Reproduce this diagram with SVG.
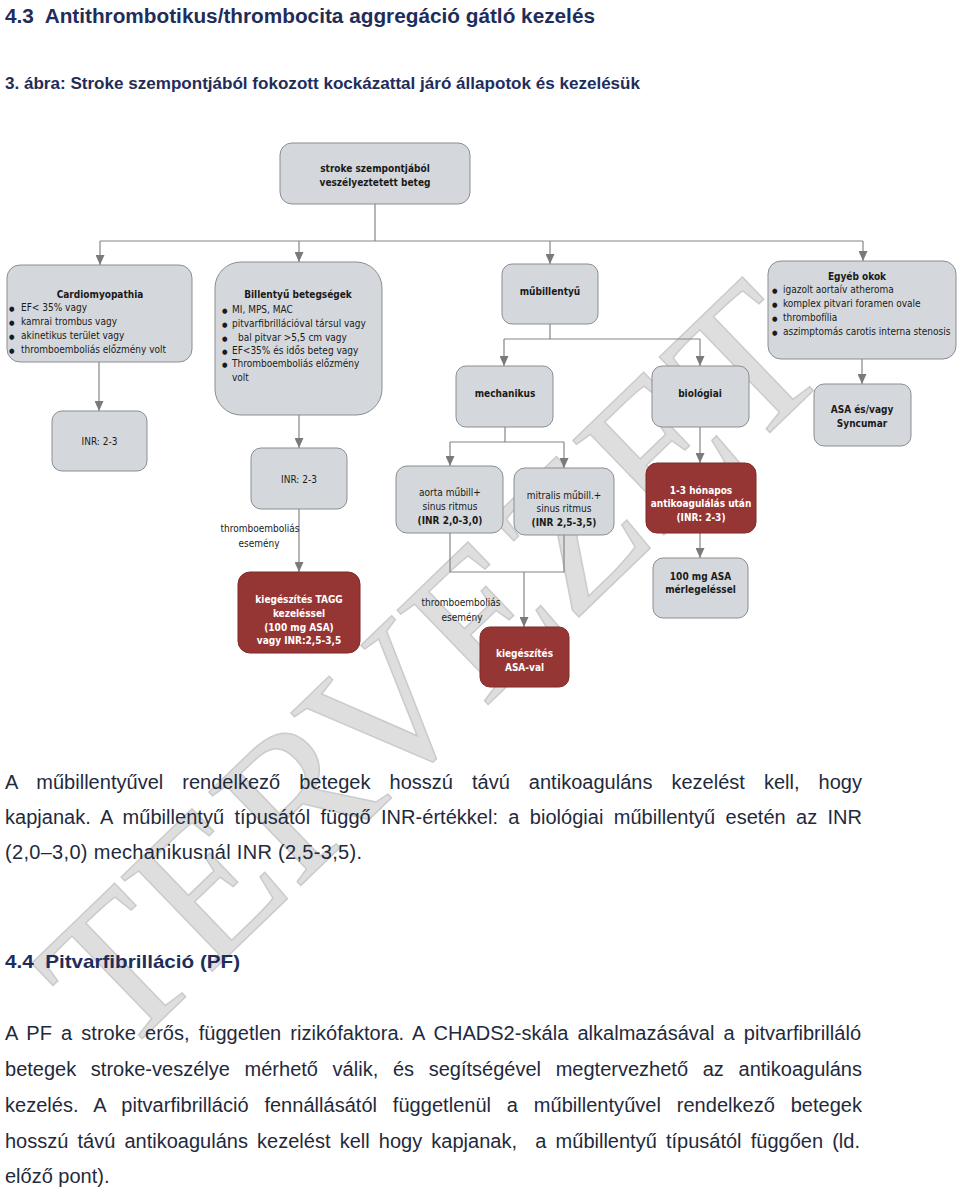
<svg xmlns="http://www.w3.org/2000/svg" width="960" height="1193" viewBox="0 0 960 1193">
<style>
.bg{fill:#ffffff}
.wm{font-family:"Liberation Serif",serif;font-size:200px;fill:#dedede;stroke:#cbcbcb;stroke-width:1.5}
.box{fill:#d4d8dc;stroke:#8a8d91;stroke-width:1}
.red{fill:#953634;stroke:#7e2b29;stroke-width:1}
.conn path{fill:none;stroke:#858585;stroke-width:1.2}
.t{font-family:"DejaVu Sans Condensed","DejaVu Sans",sans-serif;font-size:10px;fill:#1a1a1a}
.b{font-weight:bold}
.c{text-anchor:middle}
.w{fill:#ffffff}
.dot{font-size:7px}
.h{font-family:"Liberation Sans",Arial,sans-serif;font-weight:bold;fill:#1f2d5a}
.p{font-family:"Liberation Sans",Arial,sans-serif;font-size:20px;fill:#1f2a3c}
</style>
<defs>
<marker id="ah" markerUnits="userSpaceOnUse" markerWidth="10" markerHeight="9" refX="10" refY="4.5" orient="auto">
<path d="M0,0 L10,4.5 L0,9 Z" fill="#7a7a7a"/>
</marker>
</defs>
<rect class="bg" x="0" y="0" width="960" height="1193"/>

<g id="watermark">
<text class="wm" x="120" y="1060" transform="rotate(-44 120 1060)">TERVEZET</text>
</g>

<g id="headings">
<text class="h" x="5" y="23" font-size="20" textLength="590" lengthAdjust="spacingAndGlyphs" xml:space="preserve">4.3  Antithrombotikus/thrombocita aggregáció gátló kezelés</text>
<text class="h" x="5" y="89" font-size="16" textLength="635" lengthAdjust="spacingAndGlyphs">3. ábra: Stroke szempontjából fokozott kockázattal járó állapotok és kezelésük</text>
</g>

<g id="connectors" class="conn">
<path d="M375,204 V241"/>
<path d="M100,241 H863"/>
<path d="M100,241 V265" marker-end="url(#ah)"/>
<path d="M299,241 V262" marker-end="url(#ah)"/>
<path d="M550,241 V264" marker-end="url(#ah)"/>
<path d="M863,241 V261" marker-end="url(#ah)"/>
<path d="M99,362 V411" marker-end="url(#ah)"/>
<path d="M299,415 V448" marker-end="url(#ah)"/>
<path d="M299,509 V572" marker-end="url(#ah)"/>
<path d="M550,324 V339 M504,339 H700"/>
<path d="M504,339 V366" marker-end="url(#ah)"/>
<path d="M700,339 V366" marker-end="url(#ah)"/>
<path d="M505,427 V442 M450,442 H564"/>
<path d="M450,442 V466" marker-end="url(#ah)"/>
<path d="M564,442 V468" marker-end="url(#ah)"/>
<path d="M450,533 V572 H564 V535"/>
<path d="M524,572 V627" marker-end="url(#ah)"/>
<path d="M700,427 V463" marker-end="url(#ah)"/>
<path d="M700,533 V558" marker-end="url(#ah)"/>
<path d="M862,359 V384" marker-end="url(#ah)"/>
</g>

<g id="edge-labels">
<text class="t c" x="260" y="532">thromboemboliás</text>
<text class="t c" x="259" y="547">esemény</text>
<text class="t c" x="461" y="606">thromboemboliás</text>
<text class="t c" x="462" y="621">esemény</text>
</g>

<g id="n-root">
<rect class="box" x="280" y="143" width="190" height="61" rx="12"/>
<text class="t b c" x="375" y="172">stroke szempontjából</text>
<text class="t b c" x="375" y="186">veszélyeztetett beteg</text>
</g>

<g id="n-cardio">
<rect class="box" x="7" y="265" width="185" height="97" rx="13"/>
<text class="t b c" x="100" y="298">Cardiomyopathia</text>
<text class="t" x="9" y="311"><tspan class="dot">●</tspan><tspan x="21">EF&lt; 35% vagy</tspan></text>
<text class="t" x="9" y="325"><tspan class="dot">●</tspan><tspan x="21">kamrai trombus vagy</tspan></text>
<text class="t" x="9" y="339"><tspan class="dot">●</tspan><tspan x="21">akinetikus terület vagy</tspan></text>
<text class="t" x="9" y="353"><tspan class="dot">●</tspan><tspan x="21">thromboemboliás előzmény volt</tspan></text>
</g>

<g id="n-billentyu">
<rect class="box" x="215" y="262" width="167" height="153" rx="26"/>
<text class="t b c" x="298" y="298">Billentyű betegségek</text>
<text class="t" x="222" y="313"><tspan class="dot">●</tspan><tspan x="232">MI, MPS, MAC</tspan></text>
<text class="t" x="222" y="327"><tspan class="dot">●</tspan><tspan x="232">pitvarfibrillációval társul vagy</tspan></text>
<text class="t" x="222" y="341"><tspan class="dot">●</tspan><tspan x="238">bal pitvar &gt;5,5 cm vagy</tspan></text>
<text class="t" x="222" y="354"><tspan class="dot">●</tspan><tspan x="232">EF&lt;35% és idős beteg vagy</tspan></text>
<text class="t" x="222" y="367"><tspan class="dot">●</tspan><tspan x="232">Thromboemboliás előzmény</tspan></text>
<text class="t" x="232" y="381">volt</text>
</g>

<g id="n-mubillentyu">
<rect class="box" x="502" y="264" width="96" height="60" rx="10"/>
<text class="t b c" x="550" y="295">műbillentyű</text>
</g>

<g id="n-egyeb">
<rect class="box" x="768" y="261" width="188" height="98" rx="13"/>
<text class="t b c" x="857" y="280">Egyéb okok</text>
<text class="t" x="772" y="293"><tspan class="dot">●</tspan><tspan x="783">igazolt aortaív atheroma</tspan></text>
<text class="t" x="772" y="307"><tspan class="dot">●</tspan><tspan x="783">komplex pitvari foramen ovale</tspan></text>
<text class="t" x="772" y="321"><tspan class="dot">●</tspan><tspan x="783">thrombofília</tspan></text>
<text class="t" x="772" y="335"><tspan class="dot">●</tspan><tspan x="783">aszimptomás carotis interna stenosis</tspan></text>
</g>

<g id="n-inr1">
<rect class="box" x="52" y="411" width="95" height="60" rx="10"/>
<text class="t c" x="99.5" y="445">INR: 2-3</text>
</g>

<g id="n-inr2">
<rect class="box" x="251" y="448" width="96" height="61" rx="10"/>
<text class="t c" x="299" y="483">INR: 2-3</text>
</g>

<g id="n-tagg">
<rect class="red" x="238" y="572" width="122" height="81" rx="12"/>
<text class="t b c w" x="299" y="603">kiegészítés TAGG</text>
<text class="t b c w" x="299" y="617">kezeléssel</text>
<text class="t b c w" x="299" y="631">(100 mg ASA)</text>
<text class="t b c w" x="299" y="644">vagy INR:2,5-3,5</text>
</g>

<g id="n-mechanikus">
<rect class="box" x="456" y="366" width="97" height="61" rx="10"/>
<text class="t b c" x="505" y="397">mechanikus</text>
</g>

<g id="n-biologiai">
<rect class="box" x="652" y="366" width="97" height="61" rx="10"/>
<text class="t b c" x="700" y="397">biológiai</text>
</g>

<g id="n-asa-syncumar">
<rect class="box" x="814" y="384" width="97" height="62" rx="10"/>
<text class="t b c" x="862" y="413">ASA és/vagy</text>
<text class="t b c" x="862" y="427">Syncumar</text>
</g>

<g id="n-aorta">
<rect class="box" x="396" y="466" width="107" height="67" rx="11"/>
<text class="t c" x="450" y="496">aorta műbill+</text>
<text class="t c" x="450" y="510">sinus ritmus</text>
<text class="t b c" x="450" y="524">(INR 2,0-3,0)</text>
</g>

<g id="n-mitralis">
<rect class="box" x="514" y="468" width="100" height="67" rx="11"/>
<text class="t c" x="564" y="499">mitralis műbill.+</text>
<text class="t c" x="564" y="512">sinus ritmus</text>
<text class="t b c" x="564" y="526">(INR 2,5-3,5)</text>
</g>

<g id="n-kieg-asa">
<rect class="red" x="480" y="627" width="89" height="60" rx="10"/>
<text class="t b c w" x="524.5" y="657">kiegészítés</text>
<text class="t b c w" x="524.5" y="671">ASA-val</text>
</g>

<g id="n-honapos">
<rect class="red" x="646" y="463" width="110" height="70" rx="11"/>
<text class="t b c w" x="701" y="494">1-3 hónapos</text>
<text class="t b c w" x="701" y="507">antikoagulálás után</text>
<text class="t b c w" x="701" y="521">(INR: 2-3)</text>
</g>

<g id="n-100asa">
<rect class="box" x="653" y="558" width="95" height="60" rx="10"/>
<text class="t b c" x="700.5" y="580">100 mg ASA</text>
<text class="t b c" x="700.5" y="593">mérlegeléssel</text>
</g>

<g id="body-text">
<text class="p" x="5" y="789" word-spacing="13.4" textLength="857" lengthAdjust="spacing">A műbillentyűvel rendelkező betegek hosszú távú antikoaguláns kezelést kell, hogy</text>
<text class="p" x="5" y="824" word-spacing="4.7" textLength="857" lengthAdjust="spacing">kapjanak. A műbillentyű típusától függő INR-értékkel: a biológiai műbillentyű esetén az INR</text>
<text class="p" x="5" y="859" textLength="357" lengthAdjust="spacing">(2,0–3,0) mechanikusnál INR (2,5-3,5).</text>
<text class="h" x="5" y="968" font-size="19" textLength="235" lengthAdjust="spacingAndGlyphs" xml:space="preserve">4.4  Pitvarfibrilláció (PF)</text>
<text class="p" x="5" y="1040" word-spacing="3.5" textLength="856" lengthAdjust="spacing">A PF a stroke erős, független rizikófaktora. A CHADS2-skála alkalmazásával a pitvarfibrilláló</text>
<text class="p" x="5" y="1076" word-spacing="9.1" textLength="857" lengthAdjust="spacing">betegek stroke-veszélye mérhető válik, és segítségével megtervezhető az antikoaguláns</text>
<text class="p" x="5" y="1112" word-spacing="10.2" textLength="857" lengthAdjust="spacing">kezelés. A pitvarfibrilláció fennállásától függetlenül a műbillentyűvel rendelkező betegek</text>
<text class="p" x="5" y="1148" word-spacing="3.6" textLength="855" lengthAdjust="spacing" xml:space="preserve">hosszú távú antikoaguláns kezelést kell hogy kapjanak,  a műbillentyű típusától függően (ld.</text>
<text class="p" x="5" y="1183">előző pont).</text>
</g>
</svg>
